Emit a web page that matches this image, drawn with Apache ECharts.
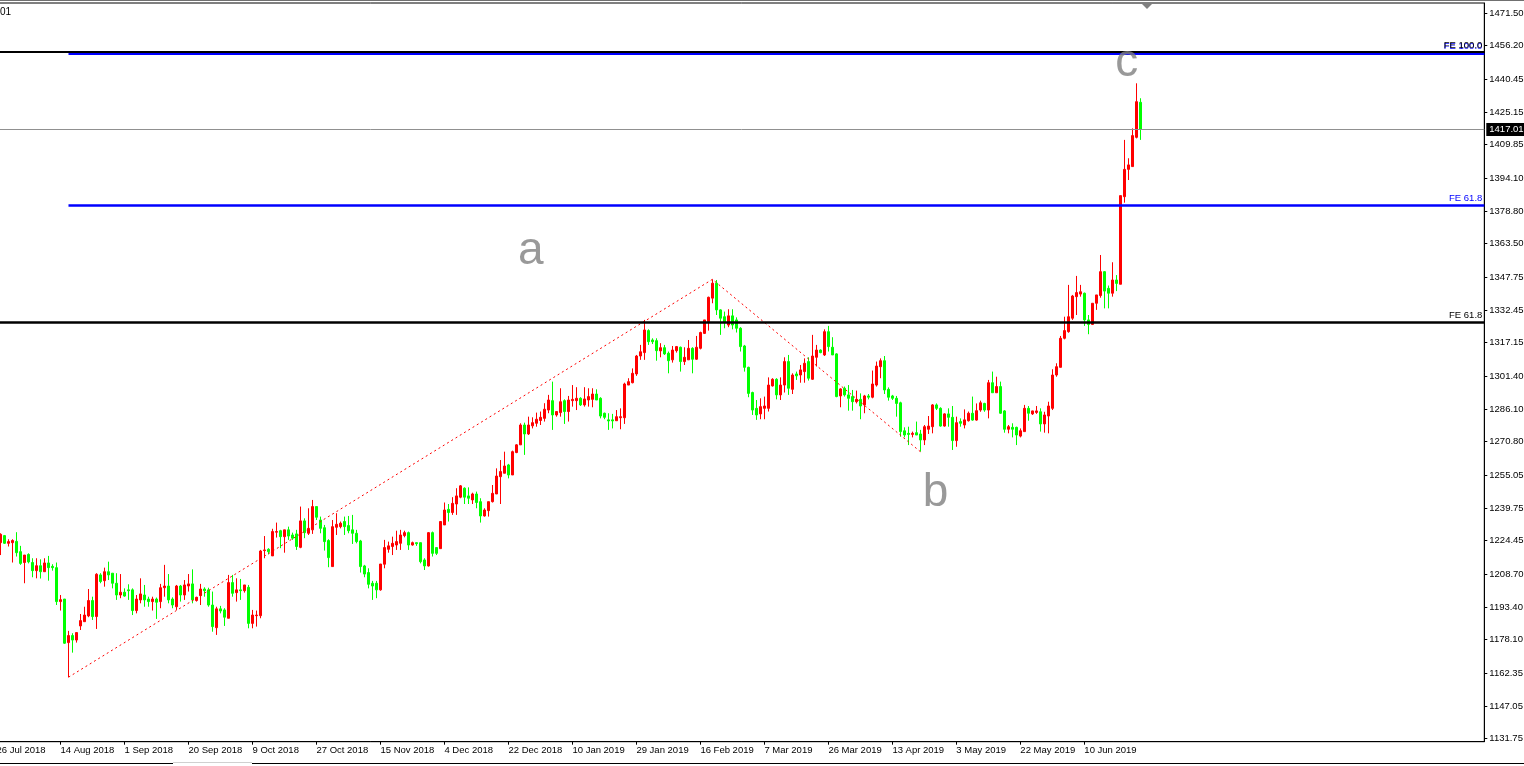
<!DOCTYPE html>
<html>
<head>
<meta charset="utf-8">
<script src="https://cdn.jsdelivr.net/npm/echarts@6/dist/echarts.min.js"></script>
<style>html,body{margin:0;padding:0;background:#fff;}#c{width:1524px;height:766px;}</style>
</head>
<body>
<div id="c"></div>
<script>
// ---- data ----
// daily candles (index 0 = 27 Jul 2018 ... 285 = 26 Jun 2019): [open, close, low, high]
const candles = [
[1223.5,1227.4,1217.7,1227.9],[1226.8,1223.2,1222.9,1227.1],[1223.2,1224.0,1221.7,1225.1],[1223.5,1224.5,1214.2,1225.1],
[1224.1,1218.8,1217.0,1228.4],[1219.3,1213.8,1213.1,1222.0],[1214.2,1217.7,1204.5,1217.7],[1218.0,1214.5,1213.8,1218.5],
[1214.2,1210.4,1207.3,1216.2],[1210.4,1212.7,1206.8,1216.2],[1212.7,1209.9,1206.7,1215.7],[1209.9,1214.0,1209.9,1216.2],
[1214.0,1211.8,1205.7,1217.3],[1212.4,1211.8,1210.4,1213.4],[1211.8,1195.9,1194.3,1214.2],[1195.9,1196.8,1191.7,1199.0],
[1197.1,1176.4,1176.1,1197.1],[1176.7,1180.0,1160.5,1182.2],[1180.0,1177.9,1172.0,1181.1],[1177.9,1181.4,1176.7,1181.4],
[1184.5,1187.0,1182.6,1190.1],[1186.5,1189.6,1186.5,1193.5],[1189.2,1196.4,1188.6,1201.8],[1196.4,1188.9,1187.3,1198.2],
[1188.9,1208.7,1183.1,1209.2],[1208.4,1205.3,1204.5,1209.2],[1205.7,1209.9,1202.9,1211.8],[1209.9,1208.4,1206.0,1214.6],
[1209.2,1204.5,1202.1,1209.2],[1204.5,1199.0,1196.7,1209.2],[1199.0,1200.3,1197.5,1208.8],[1200.3,1198.5,1198.2,1202.1],
[1201.4,1201.0,1196.7,1204.0],[1201.4,1191.7,1189.6,1202.1],[1191.7,1197.1,1190.4,1199.0],[1196.7,1199.5,1195.1,1206.8],
[1199.0,1196.7,1193.5,1203.7],[1197.1,1195.9,1193.5,1198.2],[1195.9,1197.1,1191.7,1198.2],[1197.1,1195.6,1187.8,1197.8],
[1195.9,1202.4,1192.8,1204.2],[1202.4,1203.2,1198.2,1213.1],[1203.2,1196.7,1195.1,1208.8],[1197.1,1194.3,1192.8,1197.9],
[1193.5,1203.2,1192.0,1203.7],[1203.2,1199.0,1195.9,1203.7],[1199.0,1203.7,1196.7,1206.0],[1203.2,1204.2,1200.6,1208.8],
[1204.2,1196.7,1195.1,1211.0],[1196.4,1197.9,1195.9,1198.2],[1198.7,1201.8,1194.3,1204.2],[1201.8,1201.0,1198.2,1202.6],
[1201.4,1194.3,1193.5,1202.4],[1194.3,1184.2,1181.8,1200.6],[1183.7,1192.5,1180.3,1193.5],[1192.5,1191.5,1190.4,1193.9],
[1192.0,1188.6,1184.5,1192.8],[1188.1,1204.8,1188.1,1208.4],[1204.8,1199.8,1198.2,1208.4],[1200.1,1201.4,1195.9,1206.8],
[1201.4,1201.0,1196.7,1206.5],[1201.0,1203.7,1200.1,1203.7],[1202.6,1185.7,1183.4,1203.7],[1185.7,1189.6,1183.4,1192.0],
[1189.3,1189.6,1184.2,1191.7],[1189.3,1219.6,1188.1,1220.1],[1219.8,1220.1,1216.2,1226.6],[1220.4,1219.3,1218.0,1220.9],
[1217.3,1228.7,1217.3,1230.0],[1228.4,1228.7,1225.9,1232.9],[1229.1,1226.3,1220.9,1229.5],[1226.3,1229.5,1218.8,1229.5],
[1229.5,1226.6,1224.8,1231.0],[1227.1,1225.6,1224.8,1228.2],[1227.6,1221.7,1220.1,1229.5],[1221.3,1233.7,1220.9,1240.4],
[1233.7,1228.2,1225.6,1234.9],[1227.9,1230.2,1227.1,1239.6],[1229.5,1240.4,1227.6,1243.5],[1240.4,1235.4,1234.1,1240.4],
[1234.1,1230.2,1227.9,1235.7],[1230.5,1224.0,1219.8,1231.8],[1224.5,1216.5,1212.0,1225.1],[1212.3,1231.0,1212.3,1234.1],
[1230.7,1232.1,1227.1,1237.3],[1231.0,1232.6,1230.2,1233.4],[1233.4,1231.0,1227.1,1235.7],[1231.5,1229.1,1227.9,1236.0],
[1229.5,1227.9,1222.9,1236.5],[1227.9,1224.0,1223.2,1229.5],[1224.3,1212.3,1209.5,1224.8],[1212.6,1208.8,1207.3,1213.1],
[1209.5,1204.0,1202.1,1211.5],[1204.5,1203.2,1196.7,1205.6],[1204.5,1201.4,1197.5,1205.6],[1201.4,1213.5,1201.0,1213.5],
[1213.4,1221.2,1211.5,1224.8],[1220.4,1222.0,1218.8,1224.0],[1221.7,1223.2,1217.7,1226.3],[1222.4,1224.0,1220.1,1229.1],
[1223.2,1227.1,1220.1,1229.5],[1226.8,1228.2,1226.0,1229.1],[1228.2,1222.4,1220.1,1228.7],[1222.4,1223.5,1222.1,1224.0],
[1223.5,1223.0,1222.0,1223.5],[1223.5,1214.6,1213.8,1223.5],[1215.4,1212.6,1210.7,1216.2],[1212.6,1228.2,1212.3,1228.5],
[1228.2,1218.5,1217.0,1228.7],[1221.2,1218.5,1217.7,1221.2],[1220.7,1233.4,1220.7,1233.4],[1231.8,1238.8,1231.8,1242.3],
[1239.1,1237.6,1233.4,1241.6],[1237.6,1241.9,1236.5,1244.8],[1241.6,1245.4,1236.5,1249.0],[1244.8,1250.1,1244.3,1250.5],
[1249.0,1244.8,1241.6,1249.4],[1245.4,1244.3,1241.6,1249.4],[1243.5,1246.3,1241.6,1246.9],[1246.3,1242.3,1239.6,1247.4],
[1242.7,1236.0,1232.9,1244.3],[1236.0,1238.8,1235.7,1239.6],[1238.5,1242.7,1235.7,1242.7],[1242.7,1246.6,1242.3,1250.5],
[1246.3,1254.7,1246.3,1258.3],[1254.4,1256.8,1241.6,1262.2],[1256.0,1259.4,1256.0,1266.1],[1259.9,1255.2,1253.6,1260.4],
[1255.2,1266.1,1255.2,1266.6],[1265.7,1269.3,1265.4,1269.6],[1269.3,1278.6,1269.3,1279.4],[1278.6,1274.4,1264.6,1279.7],
[1274.4,1278.6,1273.9,1282.5],[1278.2,1279.7,1277.0,1282.2],[1279.4,1281.3,1277.8,1284.4],[1280.7,1282.2,1278.6,1284.9],
[1281.7,1286.0,1280.2,1288.8],[1285.6,1290.3,1284.1,1292.7],[1290.0,1283.3,1276.3,1298.9],[1283.3,1284.9,1282.5,1284.9],
[1284.4,1289.5,1282.5,1295.8],[1290.0,1284.9,1279.1,1290.6],[1284.9,1290.3,1280.2,1292.2],[1290.0,1290.6,1287.2,1297.3],
[1290.0,1291.1,1285.6,1296.3],[1291.1,1288.0,1287.5,1291.6],[1288.0,1290.8,1287.2,1296.3],[1290.3,1291.9,1287.2,1295.8],
[1290.6,1293.1,1286.9,1295.8],[1293.1,1290.3,1290.3,1295.3],[1291.1,1282.8,1281.7,1291.6],[1284.1,1282.2,1281.3,1284.4],
[1281.0,1280.5,1276.3,1284.1],[1281.0,1280.5,1277.0,1283.8],[1280.6,1282.5,1280.6,1285.6],[1282.0,1282.5,1276.6,1286.4],
[1282.0,1297.8,1279.1,1298.4],[1297.3,1298.9,1297.3,1300.5],[1298.4,1302.8,1298.1,1305.1],[1302.5,1310.9,1301.6,1311.4],
[1310.9,1312.9,1309.1,1316.1],[1312.5,1323.1,1309.1,1327.8],[1322.8,1317.6,1316.1,1323.4],[1318.4,1317.6,1316.5,1319.2],
[1318.1,1313.4,1308.7,1319.2],[1313.3,1314.8,1310.3,1316.9],[1314.8,1311.9,1311.4,1316.1],[1312.2,1308.7,1302.8,1313.0],
[1309.1,1313.7,1307.8,1315.6],[1313.4,1315.3,1312.5,1315.6],[1315.0,1308.3,1303.6,1315.3],[1308.3,1310.3,1306.7,1315.0],
[1309.1,1314.5,1309.1,1318.4],[1314.5,1309.4,1302.8,1315.0],[1309.4,1315.0,1309.1,1320.3],[1314.5,1321.9,1314.0,1322.3],
[1321.5,1327.8,1321.2,1327.8],[1327.0,1338.4,1322.8,1338.7],[1338.0,1345.0,1335.6,1346.8],[1345.0,1332.5,1330.1,1346.5],
[1332.5,1328.6,1320.8,1332.8],[1329.3,1326.7,1323.9,1331.7],[1325.4,1329.7,1324.4,1332.8],[1329.7,1325.4,1323.4,1332.8],
[1327.8,1323.9,1321.9,1329.0],[1323.9,1315.3,1313.0,1324.4],[1315.6,1305.6,1303.6,1316.1],[1305.6,1293.4,1291.6,1305.9],
[1293.8,1285.6,1283.3,1294.2],[1286.4,1283.3,1281.0,1290.3],[1283.8,1287.2,1281.3,1291.1],[1286.4,1287.5,1281.3,1291.9],
[1286.4,1297.3,1284.9,1300.9],[1296.9,1300.0,1296.6,1300.5],[1300.0,1292.7,1290.6,1300.5],[1292.7,1297.3,1290.3,1300.9],
[1297.3,1308.3,1293.8,1310.3],[1308.3,1295.8,1292.7,1311.4],[1295.3,1302.0,1293.1,1302.8],[1302.5,1301.6,1299.7,1303.6],
[1302.0,1304.4,1298.4,1306.7],[1303.6,1307.5,1298.4,1309.8],[1308.3,1300.5,1299.4,1310.3],[1300.0,1310.9,1299.7,1320.8],
[1310.3,1313.7,1306.0,1316.1],[1313.7,1312.5,1312.2,1314.0],[1311.4,1322.3,1310.9,1323.4],[1322.3,1315.3,1313.0,1325.0],
[1315.0,1311.4,1311.4,1319.7],[1311.9,1291.9,1291.6,1312.2],[1292.2,1295.5,1286.9,1295.8],[1295.8,1292.7,1291.9,1296.6],
[1292.7,1291.1,1285.3,1297.3],[1291.9,1289.5,1285.3,1295.0],[1289.5,1290.6,1288.7,1294.7],[1290.6,1287.5,1281.3,1293.4],
[1288.0,1292.2,1284.1,1292.7],[1292.2,1291.6,1290.6,1293.1],[1291.6,1297.8,1291.1,1304.1],[1297.3,1306.2,1296.6,1308.3],
[1305.9,1308.7,1300.5,1309.8],[1308.7,1295.0,1293.1,1310.9],[1295.3,1291.6,1290.0,1296.2],[1292.2,1291.1,1290.3,1292.7],
[1291.1,1288.7,1282.5,1292.2],[1289.0,1275.5,1273.1,1289.5],[1275.9,1273.9,1272.8,1277.5],[1274.7,1274.2,1269.2,1277.8],
[1274.2,1274.7,1272.8,1275.5],[1275.0,1273.9,1273.9,1280.2],[1274.4,1271.6,1266.1,1276.3],[1271.6,1277.8,1269.2,1278.6],
[1276.6,1278.1,1274.4,1282.8],[1277.8,1288.0,1274.7,1288.4],[1288.0,1286.4,1285.6,1288.7],[1286.4,1278.1,1277.8,1286.9],
[1278.1,1283.8,1277.8,1284.1],[1283.8,1282.2,1277.8,1286.4],[1282.2,1271.3,1266.9,1287.5],[1271.3,1279.7,1268.4,1282.5],
[1280.2,1279.4,1277.8,1281.7],[1278.6,1281.0,1277.0,1285.9],[1280.6,1284.1,1280.2,1284.9],[1284.1,1280.9,1280.6,1291.9],
[1280.9,1285.3,1280.6,1288.7],[1285.6,1289.0,1284.8,1290.0],[1288.7,1285.6,1284.8,1289.0],[1285.6,1298.4,1281.7,1299.7],
[1298.4,1293.7,1293.7,1303.6],[1293.7,1296.6,1293.7,1301.2],[1296.6,1284.1,1283.8,1298.9],[1285.2,1276.6,1275.0,1285.6],
[1276.6,1277.8,1274.7,1278.6],[1277.5,1276.6,1272.8,1279.4],[1277.5,1273.9,1269.2,1277.8],[1273.4,1275.9,1272.8,1277.0],
[1275.5,1286.4,1275.5,1288.0],[1286.4,1284.1,1280.6,1287.5],[1283.8,1285.2,1283.3,1285.3],[1284.5,1285.2,1283.8,1287.5],
[1284.8,1279.1,1275.5,1286.4],[1279.1,1283.3,1275.0,1284.8],[1282.8,1287.5,1274.7,1289.5],[1286.4,1302.0,1285.6,1304.7],
[1302.0,1305.9,1301.2,1307.5],[1305.6,1319.2,1305.6,1320.3],[1319.2,1322.8,1318.7,1329.3],[1322.3,1329.3,1321.8,1344.2],
[1328.6,1339.0,1327.8,1339.5],[1338.7,1340.6,1330.1,1348.4],[1339.9,1341.0,1338.7,1344.2],[1340.3,1327.8,1325.0,1340.6],
[1327.8,1325.7,1321.1,1330.1],[1325.7,1335.6,1325.4,1335.6],[1335.6,1339.5,1332.5,1339.5],[1339.2,1350.4,1338.2,1358.2],
[1350.4,1341.3,1333.2,1350.7],[1342.6,1340.3,1333.2,1343.9],[1340.3,1346.5,1338.7,1354.8],[1346.5,1344.9,1341.3,1348.8],
[1344.5,1386.0,1344.5,1386.0],[1385.5,1398.3,1382.7,1412.1],[1398.3,1400.4,1393.3,1403.5],[1399.6,1414.1,1399.6,1417.5],
[1413.3,1430.0,1412.8,1438.6],[1429.7,1417.01,1412.1,1431.6]
];
const lastPrice = 1417.01;

// x tick positions (bar index) and their labels
const xTickIdx = [-1,15,31,47,63,79,95,111,127,143,159,175,191,207,223,239,255,271];
const xTickLabels = ['26 Jul 2018','14 Aug 2018','1 Sep 2018','20 Sep 2018','9 Oct 2018','27 Oct 2018','15 Nov 2018','4 Dec 2018',
  '22 Dec 2018','10 Jan 2019','29 Jan 2019','16 Feb 2019','7 Mar 2019','26 Mar 2019','13 Apr 2019','3 May 2019','22 May 2019','10 Jun 2019'];
// y tick labels (price)
const yTickValues = [1131.75,1147.05,1162.35,1178.10,1193.40,1208.70,1224.45,1239.75,1255.05,1270.80,1286.10,1301.40,
  1317.15,1332.45,1347.75,1363.50,1378.80,1394.10,1409.85,1425.15,1440.45,1456.20,1471.50];

// a-b-c swing (dotted red line): bar index and price
const swingX = [17, 178, 230];
const swingY = [1160.5, 1346.8, 1266.1];

// Fibonacci expansion levels
const blueFeNames = ['FE 100.0', 'FE 61.8'];
const blueFeLevels = [1452.5, 1381.5];
const blueFeWidths = [2, 2.5];
const blackFeNames = ['FE 100.0', 'FE 61.8'];
const blackFeLevels = [1453.3, 1326.7];
const blackFeWidths = [2, 2.5];

// wave labels
const waveNames = ['a', 'b', 'c'];
const waveX = [132.6, 233.8, 281.6];
const waveY = [1359.9, 1246.7, 1447.9];

// ---- chart ----
const X_MIN = -1.5, X_MAX = 371, Y_MIN = 1130.3, Y_MAX = 1476.2;
const FONT = 'Liberation Sans';

const chart = echarts.init(document.getElementById('c'), null, {renderer: 'canvas'});

const candleData = candles.map((c, i) => {
  const o = c[0], cl = c[1];
  return [i, o, cl, Math.min(c[2], o, cl), Math.max(c[3], o, cl)];
});

const markLines = [];
blueFeLevels.forEach((lv, k) => {
  markLines.push([
    {coord: [swingX[0], lv], lineStyle: {color: '#0000ff', width: blueFeWidths[k], type: 'solid'},
     label: {show: true, position: 'insideEndTop', formatter: blueFeNames[k], color: '#0000ff', fontSize: 9.5, fontFamily: FONT, distance: 2}},
    {coord: [X_MAX, lv]}
  ]);
});
blackFeLevels.forEach((lv, k) => {
  markLines.push([
    {coord: [X_MIN, lv], lineStyle: {color: '#000000', width: blackFeWidths[k], type: 'solid'},
     label: {show: true, position: 'insideEndTop', formatter: blackFeNames[k], color: '#000000', fontSize: 9.5, fontFamily: FONT, distance: 2}},
    {coord: [X_MAX, lv]}
  ]);
});
markLines.push([
  {coord: [X_MIN, lastPrice], lineStyle: {color: '#909090', width: 1, type: 'solid'},
   label: {show: true, position: 'end', formatter: lastPrice.toFixed(2), color: '#ffffff', backgroundColor: '#000000',
     padding: [2, 4, 1, 3], fontSize: 9.5, fontFamily: FONT, distance: 2}},
  {coord: [X_MAX, lastPrice]}
]);

const option = {
  animation: false,
  backgroundColor: '#ffffff',
  grid: {left: -5.5, right: 39.7, top: 3, bottom: 24.3, show: true, borderColor: '#000', borderWidth: 1,
    backgroundColor: 'transparent', containLabel: false, outerBoundsMode: 'none'},
  xAxis: {
    type: 'value', min: X_MIN, max: X_MAX,
    axisLine: {show: true, onZero: false, lineStyle: {color: '#000', width: 1}},
    axisTick: {show: true, length: 3, lineStyle: {color: '#000'}, customValues: xTickIdx},
    axisLabel: {
      show: true, customValues: xTickIdx, align: 'left', margin: 4, color: '#000', fontSize: 9.5, fontFamily: FONT,
      formatter: function (v) {
        for (let k = 0; k < xTickIdx.length; k++) if (Math.abs(xTickIdx[k] - v) < 0.01) return xTickLabels[k];
        return '';
      }
    },
    splitLine: {show: false}
  },
  yAxis: {
    type: 'value', position: 'right', min: Y_MIN, max: Y_MAX, scale: true,
    axisLine: {show: true, onZero: false, lineStyle: {color: '#000', width: 1}},
    axisTick: {show: true, length: 3, lineStyle: {color: '#000'}, customValues: yTickValues},
    axisLabel: {show: true, customValues: yTickValues, margin: 5, color: '#000', fontSize: 9.5, fontFamily: FONT,
      formatter: function (v) { return Number(v).toFixed(2); }},
    splitLine: {show: false}
  },
  series: [
    {
      type: 'candlestick',
      data: candleData,
      barWidth: 2,
      itemStyle: {color: '#ff0000', color0: '#00ff00', borderColor: '#ff0000', borderColor0: '#00ff00', borderWidth: 1},
      markLine: {silent: true, symbol: ['none', 'none'], animation: false, data: markLines}
    },
    {
      type: 'line',
      data: swingX.map((x, k) => [x, swingY[k]]),
      symbol: 'none', z: 4, silent: true,
      lineStyle: {color: '#ff0000', width: 1, type: [2, 3]}
    },
    {
      type: 'scatter',
      data: waveX.map((x, k) => [x, waveY[k], waveNames[k]]),
      symbolSize: 1, silent: true, z: 6,
      itemStyle: {color: 'rgba(0,0,0,0)'},
      label: {show: true, position: 'inside', formatter: p => p.data[2], fontSize: 46, color: '#808080', fontFamily: FONT}
    }
  ],
  graphic: [
    {type: 'line', shape: {x1: 0, y1: 0.5, x2: 1524, y2: 0.5}, style: {stroke: '#707070', lineWidth: 1}, silent: true},
    {type: 'text', left: 0, top: 7, style: {text: '01', fontSize: 10, fontFamily: FONT, fill: '#000'}, silent: true},
    {type: 'polygon', shape: {points: [[1142, 4], [1152, 4], [1147, 9]]}, style: {fill: '#808080'}, silent: true},
    {type: 'line', shape: {x1: 0, y1: 763.5, x2: 173, y2: 763.5}, style: {stroke: '#000', lineWidth: 1}, silent: true},
    {type: 'line', shape: {x1: 252, y1: 763.5, x2: 1524, y2: 763.5}, style: {stroke: '#000', lineWidth: 1}, silent: true},
    {type: 'line', shape: {x1: 173, y1: 762.5, x2: 252, y2: 762.5}, style: {stroke: '#d0d0d0', lineWidth: 1}, silent: true}
  ]
};
chart.setOption(option);
</script>
</body>
</html>
